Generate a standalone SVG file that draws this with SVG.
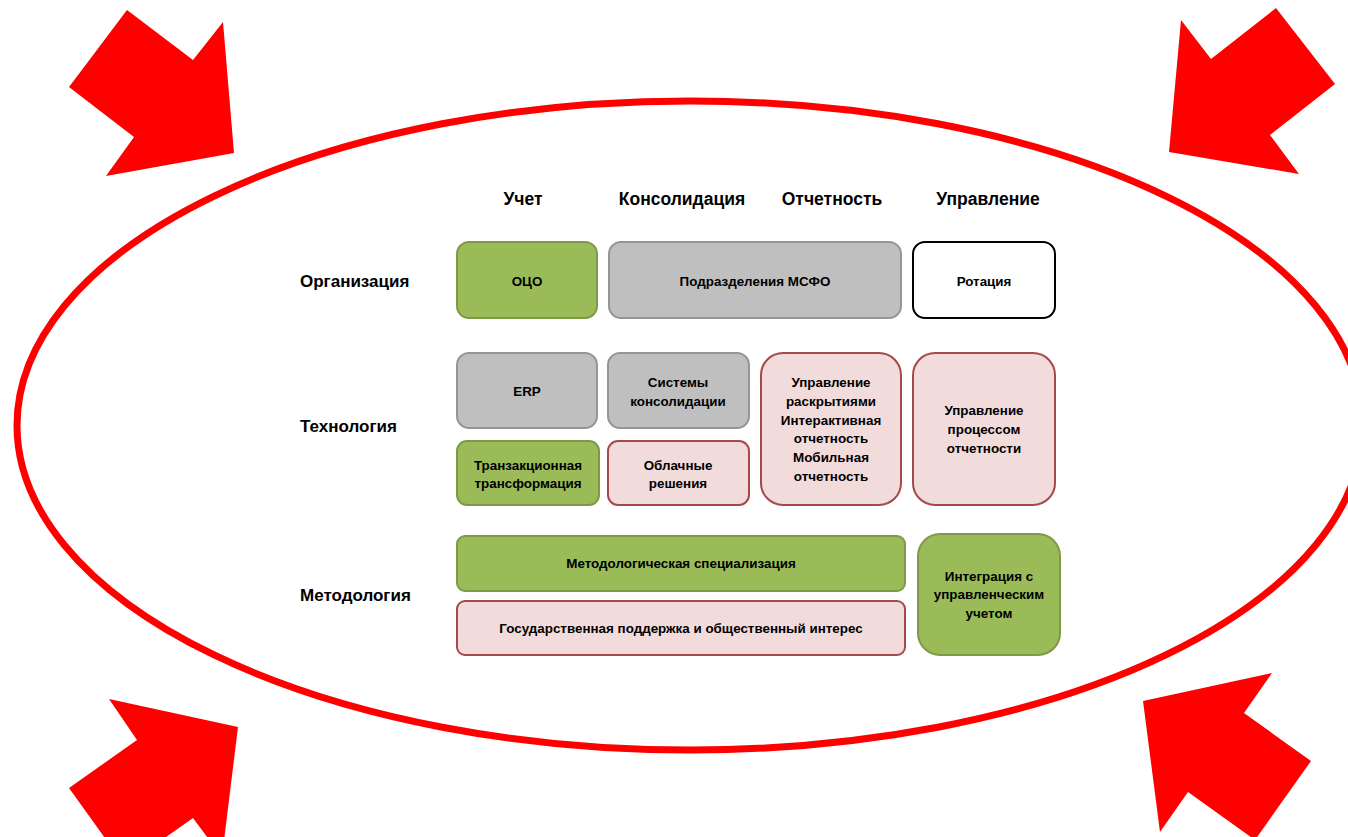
<svg xmlns="http://www.w3.org/2000/svg" width="1348" height="837" viewBox="0 0 1348 837">
<style>
.hdr{font-family:"Liberation Sans",Arial,sans-serif;font-weight:bold;font-size:17.5px;fill:#000;text-anchor:middle}
.row{font-family:"Liberation Sans",Arial,sans-serif;font-weight:bold;font-size:17px;fill:#000}
.t{font-family:"Liberation Sans",Arial,sans-serif;font-weight:bold;font-size:13.4px;fill:#000;text-anchor:middle}
.green{fill:#9BBB59;stroke:#7E9A46;stroke-width:2}
.gray{fill:#BFBFBF;stroke:#959595;stroke-width:2}
.pink{fill:#F2DCDB;stroke:#A5494B;stroke-width:2}
.white{fill:#FFFFFF;stroke:#000;stroke-width:2}
.arrow{fill:#FF0000}
</style>
<rect width="1348" height="837" fill="#FFFFFF"/>
<g id="arrows">
<polygon class="arrow" points="234,153 223,22 193,60 127,10 69,87 134,137 106,176"/>
<polygon class="arrow" points="1169,152 1181,20 1211,59 1276,8 1335,84 1270,135 1299,174"/>
<polygon class="arrow" points="238,727 109,699 137,740 69,788 125,866 193,818 222,857"/>
<polygon class="arrow" points="1143,701 1272,673 1244,713 1311,761 1255,840 1188,792 1160,832"/>
</g>
<ellipse id="ring" cx="690" cy="425.5" rx="673" ry="324.5" fill="none" stroke="#FF0000" stroke-width="7"/>
<g id="headers">
<text class="hdr" x="523" y="205">Учет</text>
<text class="hdr" x="682" y="205">Консолидация</text>
<text class="hdr" x="832" y="205">Отчетность</text>
<text class="hdr" x="988" y="205">Управление</text>
</g>
<g id="rows">
<text class="row" x="300" y="287">Организация</text>
<text class="row" x="300" y="432">Технология</text>
<text class="row" x="300" y="601">Методология</text>
</g>
<g id="n-oco"><rect class="green" x="457" y="242" width="140" height="76" rx="12"/><text class="t" x="527" y="285.5">ОЦО</text></g>
<g id="n-msfo"><rect class="gray" x="609" y="242" width="292" height="76" rx="12"/><text class="t" x="755" y="285.5">Подразделения МСФО</text></g>
<g id="n-rot"><rect class="white" x="913" y="242" width="142" height="76" rx="12"/><text class="t" x="984" y="285.5">Ротация</text></g>
<g id="n-erp"><rect class="gray" x="457" y="353" width="140" height="75" rx="12"/><text class="t" x="527" y="395.5">ERP</text></g>
<g id="n-sys"><rect class="gray" x="608" y="353" width="141" height="75" rx="12"/><text class="t" x="678" y="386.5">Системы</text><text class="t" x="678" y="405.5">консолидации</text></g>
<g id="n-trans"><rect class="green" x="457" y="441" width="142" height="64" rx="10"/><text class="t" x="528" y="469.5">Транзакционная</text><text class="t" x="528" y="488">трансформация</text></g>
<g id="n-cloud"><rect class="pink" x="608" y="441" width="141" height="64" rx="10"/><text class="t" x="678" y="469.5">Облачные</text><text class="t" x="678" y="488">решения</text></g>
<g id="n-disc"><rect class="pink" x="761" y="353" width="140" height="152" rx="22"/>
<text class="t" x="831" y="387">Управление</text><text class="t" x="831" y="406">раскрытиями</text><text class="t" x="831" y="424.5">Интерактивная</text><text class="t" x="831" y="443">отчетность</text><text class="t" x="831" y="462">Мобильная</text><text class="t" x="831" y="480.5">отчетность</text></g>
<g id="n-proc"><rect class="pink" x="913" y="353" width="142" height="152" rx="22"/>
<text class="t" x="984" y="415">Управление</text><text class="t" x="984" y="434">процессом</text><text class="t" x="984" y="452.5">отчетности</text></g>
<g id="n-meth"><rect class="green" x="457" y="536" width="448" height="55" rx="8"/><text class="t" x="681" y="568">Методологическая специализация</text></g>
<g id="n-gov"><rect class="pink" x="457" y="601" width="448" height="54" rx="8"/><text class="t" x="681" y="632.5">Государственная поддержка и общественный интерес</text></g>
<g id="n-integ"><rect class="green" x="918" y="534" width="142" height="121" rx="22"/>
<text class="t" x="989" y="580.5">Интеграция с</text><text class="t" x="989" y="599">управленческим</text><text class="t" x="989" y="618">учетом</text></g>
<g id="connectors"></g>
</svg>
